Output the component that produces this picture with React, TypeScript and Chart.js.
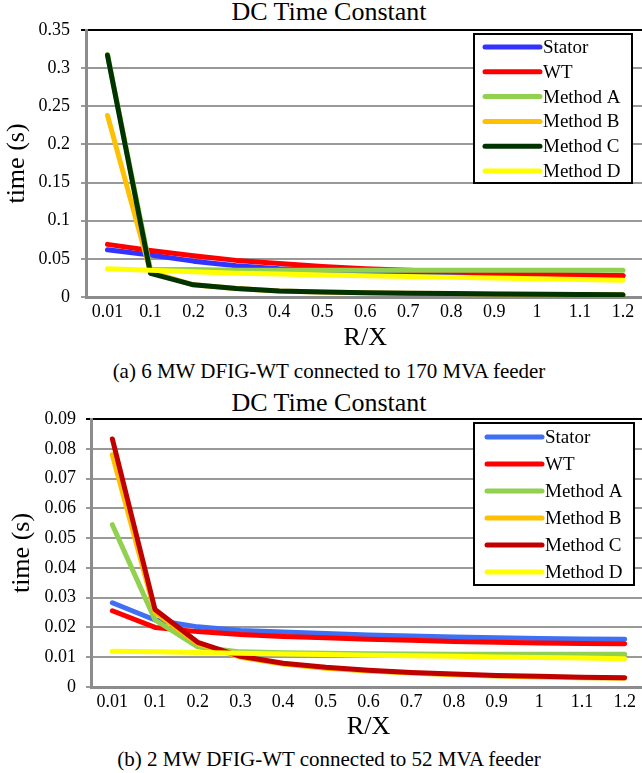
import React, { useEffect, useRef } from 'react';
import { Chart, registerables } from 'chart.js';

Chart.register(...registerables);

const FONT = "'Liberation Serif', 'Times New Roman', Times, serif";
Chart.defaults.font.family = FONT;

const categories = ['0.01', '0.1', '0.2', '0.3', '0.4', '0.5', '0.6', '0.7', '0.8', '0.9', '1', '1.1', '1.2'];
const seriesNames = ['Stator', 'WT', 'Method A', 'Method B', 'Method C', 'Method D'];

// (a) 6 MW DFIG-WT connected to 170 MVA feeder
const statorA = [0.062, 0.055, 0.047, 0.041, 0.037, 0.035, 0.033, 0.032, 0.031, 0.030, 0.029, 0.029, 0.028];
const wtA = [0.069, 0.061, 0.054, 0.048, 0.044, 0.040, 0.037, 0.035, 0.033, 0.031, 0.030, 0.029, 0.028];
const methodA_A = [0.318, 0.036, 0.036, 0.035, 0.035, 0.035, 0.035, 0.035, 0.035, 0.035, 0.035, 0.035, 0.035];
const methodB_A = [0.238, 0.033, 0.016, 0.011, 0.008, 0.0065, 0.0055, 0.005, 0.0045, 0.004, 0.0037, 0.0034, 0.003];
const methodC_A = [0.317, 0.031, 0.016, 0.011, 0.008, 0.0065, 0.0055, 0.005, 0.0045, 0.004, 0.0037, 0.0034, 0.003];
const methodD_A = [0.037, 0.035, 0.033, 0.031, 0.030, 0.029, 0.028, 0.027, 0.026, 0.025, 0.024, 0.023, 0.022];
const colorsA = ['#3333ff', '#ff0000', '#92d050', '#ffc000', '#003300', '#ffff00'];
const yMaxA = 0.35;
const yStepA = 0.05;

// (b) 2 MW DFIG-WT connected to 52 MVA feeder
const statorB = [0.0283, 0.0225, 0.0202, 0.019, 0.0185, 0.018, 0.0175, 0.0171, 0.0168, 0.0165, 0.0163, 0.0161, 0.016];
const wtB = [0.0256, 0.02, 0.0186, 0.0176, 0.017, 0.0165, 0.016, 0.0157, 0.0153, 0.015, 0.0148, 0.0146, 0.0145];
const methodA_B = [0.0545, 0.0225, 0.0135, 0.0118, 0.0115, 0.0113, 0.0112, 0.0111, 0.011, 0.011, 0.011, 0.011, 0.011];
const methodB_B = [0.078, 0.025, 0.0145, 0.010, 0.0077, 0.0063, 0.0054, 0.0047, 0.0041, 0.0037, 0.0034, 0.0031, 0.0029];
const methodC_B = [0.0833, 0.026, 0.015, 0.0103, 0.008, 0.0066, 0.0056, 0.0049, 0.0044, 0.0039, 0.0036, 0.0033, 0.0031];
const methodD_B = [0.012, 0.0118, 0.0116, 0.0113, 0.0111, 0.0109, 0.0107, 0.0105, 0.0103, 0.0101, 0.0099, 0.0097, 0.0095];
const colorsB = ['#3f6ff2', '#ff0000', '#92d050', '#ffc000', '#c00000', '#ffff00'];
const yMaxB = 0.09;
const yStepB = 0.01;

const chartTitle = 'DC Time Constant';
const xTitle = 'R/X';
const yTitle = 'time (s)';
const captionA = '(a) 6 MW DFIG-WT connected to 170 MVA feeder';
const captionB = '(b) 2 MW DFIG-WT connected to 52 MVA feeder';

const boxLegend = {
  id: 'boxLegend',
  afterDatasetsDraw(chart: any, _args: any, opts: any) {
    const { ctx, chartArea } = chart;
    const left = chartArea.right - opts.fromRight;
    const top = chartArea.top + opts.fromTop;
    ctx.save();
    ctx.fillStyle = '#ffffff';
    ctx.fillRect(left, top, opts.width, opts.height);
    ctx.lineWidth = 2;
    ctx.strokeStyle = '#000000';
    ctx.strokeRect(left, top, opts.width, opts.height);
    ctx.font = `${opts.fontSize}px ${FONT}`;
    ctx.textBaseline = 'middle';
    ctx.textAlign = 'left';
    chart.data.datasets.forEach((ds: any, i: number) => {
      const y = top + opts.firstRow + i * opts.rowGap;
      ctx.beginPath();
      ctx.lineCap = 'round';
      ctx.lineWidth = 5;
      ctx.strokeStyle = ds.borderColor;
      ctx.moveTo(left + opts.lineStart, y);
      ctx.lineTo(left + opts.lineEnd, y);
      ctx.stroke();
      ctx.fillStyle = '#000000';
      ctx.fillText(ds.label, left + opts.textStart, y + 1);
    });
    ctx.restore();
  },
};

type PanelProps = {
  width: number;
  height: number;
  series: number[][];
  colors: string[];
  yMax: number;
  yStep: number;
  axisWidth: number;
  xAxisHeight: number;
  padTop: number;
  padRight: number;
  yTitlePad: number;
  yTickPad: number;
  legend: any;
};

function ChartPanel(p: PanelProps) {
  const ref = useRef<HTMLCanvasElement | null>(null);
  useEffect(() => {
    if (!ref.current) return;
    const n = seriesNames.length;
    const chart = new Chart(ref.current, {
      type: 'line',
      data: {
        labels: categories,
        datasets: seriesNames.map((name, i) => ({
          label: name,
          data: p.series[i],
          borderColor: p.colors[i],
          backgroundColor: p.colors[i],
          borderWidth: 5,
          borderCapStyle: 'round',
          borderJoinStyle: 'round',
          pointRadius: 0,
          tension: 0,
          fill: false,
          order: n - i,
        })),
      },
      options: {
        animation: false,
        responsive: false,
        events: [],
        layout: { padding: { top: p.padTop, right: p.padRight, left: 0, bottom: 0 } },
        plugins: {
          legend: { display: false },
          title: { display: false },
          tooltip: { enabled: false },
          boxLegend: p.legend,
        } as any,
        scales: {
          x: {
            type: 'category',
            offset: true,
            grid: { display: false, drawTicks: false, tickLength: 0 },
            border: { display: true, color: '#8c8c8c', width: 3 },
            ticks: {
              color: '#000',
              font: { family: FONT, size: 18 },
              padding: 4,
              maxRotation: 0,
              autoSkip: false,
            },
            title: {
              display: true,
              text: xTitle,
              color: '#000',
              font: { family: FONT, size: 26, lineHeight: 1 },
              padding: { top: 0, bottom: 0 },
            },
            afterFit: (s: any) => {
              s.height = p.xAxisHeight;
            },
          },
          y: {
            min: 0,
            max: p.yMax,
            ticks: {
              stepSize: p.yStep,
              color: '#000',
              font: { family: FONT, size: 18 },
              padding: p.yTickPad,
              callback: (v: any) => String(parseFloat(Number(v).toFixed(3))),
            },
            grid: {
              color: (c: any) => (c.tick && c.tick.value >= p.yMax - 1e-9 ? '#000000' : '#999999'),
              lineWidth: 2,
              tickLength: 5,
            },
            border: { display: true, color: '#8c8c8c', width: 3 },
            title: {
              display: true,
              text: yTitle,
              color: '#000',
              font: { family: FONT, size: 26, lineHeight: 1 },
              padding: { top: p.yTitlePad, bottom: 0 },
            },
            afterFit: (s: any) => {
              s.width = p.axisWidth;
            },
          },
        },
      } as any,
      plugins: [boxLegend as any],
    });
    return () => chart.destroy();
  }, []);
  return <canvas ref={ref} width={p.width} height={p.height} style={{ display: 'block' }} />;
}

const textStyle: React.CSSProperties = {
  position: 'absolute',
  left: 0,
  width: 658,
  textAlign: 'center',
  fontFamily: FONT,
  color: '#000',
  whiteSpace: 'nowrap',
};

export default function App() {
  return (
    <div
      style={{
        position: 'fixed',
        left: 0,
        top: 0,
        width: 642,
        height: 773,
        overflow: 'hidden',
        background: '#fff',
      }}
    >
      <div style={{ position: 'relative', width: 658, height: 773 }}>
        <div style={{ ...textStyle, top: -1, fontSize: 26, lineHeight: '26px' }}>{chartTitle}</div>
        <div style={{ position: 'absolute', left: 0, top: 0 }}>
          <ChartPanel
            width={658}
            height={351}
            series={[statorA, wtA, methodA_A, methodB_A, methodC_A, methodD_A]}
            colors={colorsA}
            yMax={yMaxA}
            yStep={yStepA}
            axisWidth={86}
            xAxisHeight={54}
            padTop={30}
            padRight={13.5}
            yTitlePad={4}
            yTickPad={11}
            legend={{ fromRight: 170.5, fromTop: 4, width: 158, height: 149, firstRow: 13, rowGap: 24.8, lineStart: 11, lineEnd: 66, textStart: 69, fontSize: 19 }}
          />
        </div>
        <div style={{ ...textStyle, top: 359, fontSize: 21, lineHeight: '24px' }}>{captionA}</div>

        <div style={{ ...textStyle, top: 390, fontSize: 26, lineHeight: '26px' }}>{chartTitle}</div>
        <div style={{ position: 'absolute', left: 0, top: 390 }}>
          <ChartPanel
            width={658}
            height={350}
            series={[statorB, wtB, methodA_B, methodB_B, methodC_B, methodD_B]}
            colors={colorsB}
            yMax={yMaxB}
            yStep={yStepB}
            axisWidth={91}
            xAxisHeight={53}
            padTop={29}
            padRight={12}
            yTitlePad={9}
            yTickPad={10}
            legend={{ fromRight: 172, fromTop: 4, width: 160, height: 162, firstRow: 14, rowGap: 27, lineStart: 13, lineEnd: 68, textStart: 71, fontSize: 19 }}
          />
        </div>
        <div style={{ ...textStyle, top: 747, fontSize: 21, lineHeight: '24px' }}>{captionB}</div>
      </div>
    </div>
  );
}
